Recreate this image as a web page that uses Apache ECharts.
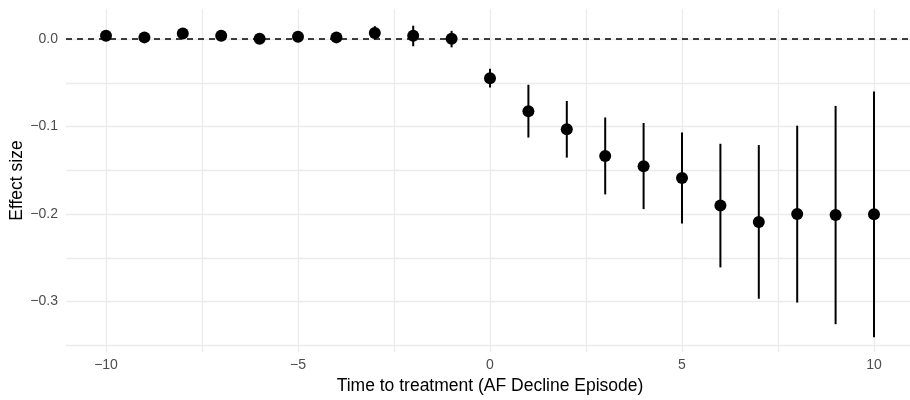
<!DOCTYPE html>
<html>
<head>
<meta charset="utf-8">
<script src="https://cdn.jsdelivr.net/npm/echarts@6/dist/echarts.min.js"></script>
<style>
  html, body { margin: 0; padding: 0; background: #fff; }
  #chart { width: 910px; height: 400px; }
</style>
</head>
<body>
<div id="chart"></div>
<script>
// event-study estimates
const periods = [-10, -9, -8, -7, -6, -5, -4, -3, -2, -1, 0, 1, 2, 3, 4, 5, 6, 7, 8, 9, 10]
const estimates = [0.0034, 0.0015, 0.006, 0.0034, 0.0, 0.0023, 0.0015, 0.0065, 0.0034, 0.0,
  -0.0457, -0.0838, -0.1048, -0.1356, -0.1474, -0.161, -0.1928, -0.2118, -0.2027, -0.2038, -0.203]
const lower = [-0.001, -0.0025, 0.001, -0.001, -0.004, -0.002, -0.0025, -0.001, -0.0088, -0.010,
  -0.0564, -0.1143, -0.1375, -0.180, -0.197, -0.2137, -0.2644, -0.3006, -0.305, -0.330, -0.345]
const upper = [0.008, 0.0055, 0.011, 0.008, 0.004, 0.0065, 0.0055, 0.0145, 0.015, 0.009,
  -0.0347, -0.0533, -0.072, -0.0911, -0.0975, -0.1086, -0.1215, -0.123, -0.1006, -0.0777, -0.061]
const yTicks = [0, -0.1, -0.2, -0.3]
const xTicks = [-10, -5, 0, 5, 10]

const minus = v => (v < 0 ? '\u2212' : '') + Math.abs(v)

const chart = echarts.init(document.getElementById('chart'))

chart.setOption({
  backgroundColor: '#fff',
  animation: false,
  textStyle: { fontFamily: 'Liberation Sans, Arial, sans-serif' },
  grid: [
    // data panel, x runs exactly -10..10
    { left: 105, right: 36, top: 9, bottom: 44 },
    // horizontal grid lines span whole panel width
    { left: 66, right: 0, top: 39, bottom: 54.75 }
  ],
  xAxis: [
    {
      gridIndex: 0,
      type: 'value',
      min: -10,
      max: 10,
      interval: 2.5,
      axisLine: { show: false },
      axisTick: { show: false },
      splitLine: { lineStyle: { color: '#ebebeb', width: 1.3 } },
      axisLabel: {
        fontSize: 14,
        color: '#4d4d4d',
        margin: 6,
        formatter: v => (xTicks.includes(v) ? minus(v) : '')
      },
      name: 'Time to treatment (AF Decline Episode)',
      nameLocation: 'middle',
      nameGap: 20,
      nameTextStyle: { fontSize: 17.5, color: '#000' }
    },
    {
      gridIndex: 1,
      type: 'value',
      min: -11,
      max: 11,
      show: false
    }
  ],
  yAxis: [
    {
      gridIndex: 0,
      type: 'value',
      min: -0.3623,
      max: 0.0343,
      axisLine: { show: false },
      axisTick: { show: false },
      axisLabel: { show: false },
      splitLine: { show: false },
      name: 'Effect size',
      nameLocation: 'middle',
      nameGap: 80,
      nameTextStyle: { fontSize: 17.5, color: '#000' }
    },
    {
      gridIndex: 1,
      type: 'value',
      min: -0.35,
      max: 0,
      interval: 0.05,
      axisLine: { show: false },
      axisTick: { show: false },
      splitLine: { lineStyle: { color: '#ebebeb', width: 1.3 } },
      axisLabel: {
        fontSize: 14,
        color: '#4d4d4d',
        margin: 8,
        formatter: v => {
          const t = yTicks.find(k => Math.abs(k - v) < 1e-9)
          return t === undefined ? '' : (t < 0 ? '\u2212' : '') + Math.abs(t).toFixed(1)
        }
      }
    }
  ],
  series: [
    {
      // zero reference line
      type: 'line',
      xAxisIndex: 1,
      yAxisIndex: 1,
      data: [],
      z: 3,
      markLine: {
        silent: true,
        symbol: 'none',
        label: { show: false },
        lineStyle: { color: '#000', type: [6, 5], width: 1.5 },
        data: [{ yAxis: 0 }]
      }
    },
    {
      // confidence intervals
      type: 'custom',
      xAxisIndex: 0,
      yAxisIndex: 0,
      z: 4,
      data: periods.map((p, i) => [p, lower[i], upper[i]]),
      renderItem: (params, api) => {
        const lo = api.coord([api.value(0), api.value(1)])
        const hi = api.coord([api.value(0), api.value(2)])
        return {
          type: 'line',
          shape: { x1: lo[0], y1: lo[1], x2: hi[0], y2: hi[1] },
          style: { stroke: '#000', lineWidth: 2 }
        }
      }
    },
    {
      type: 'scatter',
      xAxisIndex: 0,
      yAxisIndex: 0,
      z: 5,
      clip: false,
      symbolSize: 12,
      itemStyle: { color: '#000', opacity: 1 },
      data: periods.map((p, i) => [p, estimates[i]])
    }
  ]
})
</script>
</body>
</html>
